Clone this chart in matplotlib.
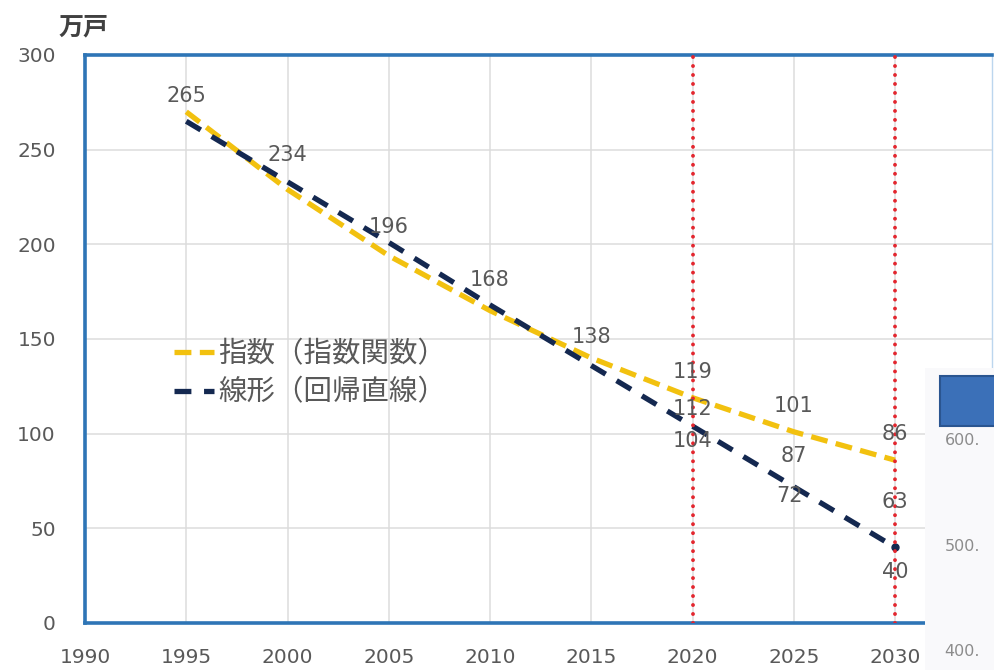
import matplotlib
matplotlib.use("Agg")
import matplotlib.pyplot as plt

# --- data ---
years = [1995, 2000, 2005, 2010, 2015, 2020, 2025, 2030]
exp_vals = [270, 229, 194, 165, 140, 119, 101, 86]      # 指数（指数関数）
lin_vals = [265, 233, 201, 168, 136, 104, 72, 40]       # 線形（回帰直線）
act_years = [1995, 2000, 2005, 2010, 2015]
act_vals = [265, 234, 196, 168, 138]                    # actual values (labels only)
avg_years = [2020, 2025, 2030]
avg_vals = [112, 87, 63]                                # middle labels
mark_years = [2020, 2030]                               # red dotted markers
exp_label = "指数（指数関数）"
lin_label = "線形（回帰直線）"
unit_label = "万戸"
x_ticks = [1990, 1995, 2000, 2005, 2010, 2015, 2020, 2025, 2030]
y_ticks = [0, 50, 100, 150, 200, 250, 300]
# fragment of the neighbouring chart at the right edge
side_ticks = [600, 500, 400]
side_bar = [1]

plt.rcParams['font.family'] = ['DejaVu Sans', 'Noto Sans CJK JP']

W, H = 995, 670
fig = plt.figure(figsize=(W / 100, H / 100), dpi=100)
fig.patch.set_facecolor('white')

ax = fig.add_axes([85 / W, 1 - 623 / H, (992 - 85) / W, (623 - 55) / H])
ax.set_xlim(1990, 1990 + 907 / 20.25)
ax.set_ylim(0, 300)
ax.set_xticks(x_ticks)
ax.set_yticks(y_ticks)
ax.grid(True, color='#dcdcdc', linewidth=1.1)
ax.set_axisbelow(True)
ax.tick_params(length=0, labelsize=14.5, labelcolor='#595959')
ax.tick_params(axis='y', pad=21)
ax.tick_params(axis='x', pad=18)

for side in ['left', 'top', 'bottom']:
    ax.spines[side].set_color('#2e75b6')
    ax.spines[side].set_linewidth(2.6)
ax.spines['right'].set_color('#bcd6ee')
ax.spines['right'].set_linewidth(1.0)

gold = '#f2c10f'
navy = '#142850'

ax.plot(years, exp_vals, color=gold, lw=3.8, dashes=(3.2, 1.6),
        label=exp_label, zorder=3)
ax.plot(years, lin_vals, color=navy, lw=3.8, dashes=(3.2, 2.4),
        label=lin_label, zorder=3)
ax.plot(years[-1], lin_vals[-1], 'o', color=navy, ms=5, zorder=3)

for yr in mark_years:
    ax.axvline(yr, color='#e3262e', lw=2.8, ls=(0, (0.01, 2.3)),
               dash_capstyle='round', zorder=4)

txt = dict(ha='center', va='center', fontsize=15, color='#595959',
           textcoords='offset points', zorder=5)
for x, v in zip(act_years, act_vals):
    ax.annotate(str(v), (x, v), xytext=(0, 18), **txt)
for x, v in zip(years[-3:], exp_vals[-3:]):
    ax.annotate(str(v), (x, v), xytext=(0, 18.5), **txt)
for x, v in zip(avg_years, avg_vals):
    ax.annotate(str(v), (x, v), xytext=(0, 1.5), **txt)
lin_off = [(0, -11), (-3, -7), (0, -18)]
for (x, v), off in zip(zip(years[-3:], lin_vals[-3:]), lin_off):
    ax.annotate(str(v), (x, v), xytext=off, **txt)

leg = ax.legend(loc='upper left', bbox_to_anchor=(174 / W, 1 - 339 / H),
                bbox_transform=fig.transFigure, frameon=False,
                prop={'family': 'Noto Sans CJK JP', 'size': 20.5},
                handlelength=1.4, handletextpad=0.15, labelspacing=0.3,
                borderpad=0, borderaxespad=0)
for t in leg.get_texts():
    t.set_color('#595959')

fig.text(84 / W, 1 - 27 / H, unit_label, ha='center', va='center',
         fontsize=18, fontweight='bold', color='#404040',
         family='Noto Sans CJK JP')

# overlapping piece of the next chart on the right
side = fig.add_axes([925 / W, 0, (W - 925) / W, (H - 368) / H])
side.set_facecolor('#f9f9fb')
side.set_xlim(0, 1)
side.set_ylim(383, 668)
side.barh([637], side_bar, height=47, left=0.21, color='#3b70b8',
          edgecolor='#2a5590', linewidth=1.5)
for v in side_ticks:
    side.text(0.28, v, f"{v}.", ha='left', va='center', fontsize=11.5,
              color='#8c8c8c')
side.set_xticks([])
side.set_yticks([])
for s in side.spines.values():
    s.set_visible(False)

fig.savefig('out.png', dpi=100)
